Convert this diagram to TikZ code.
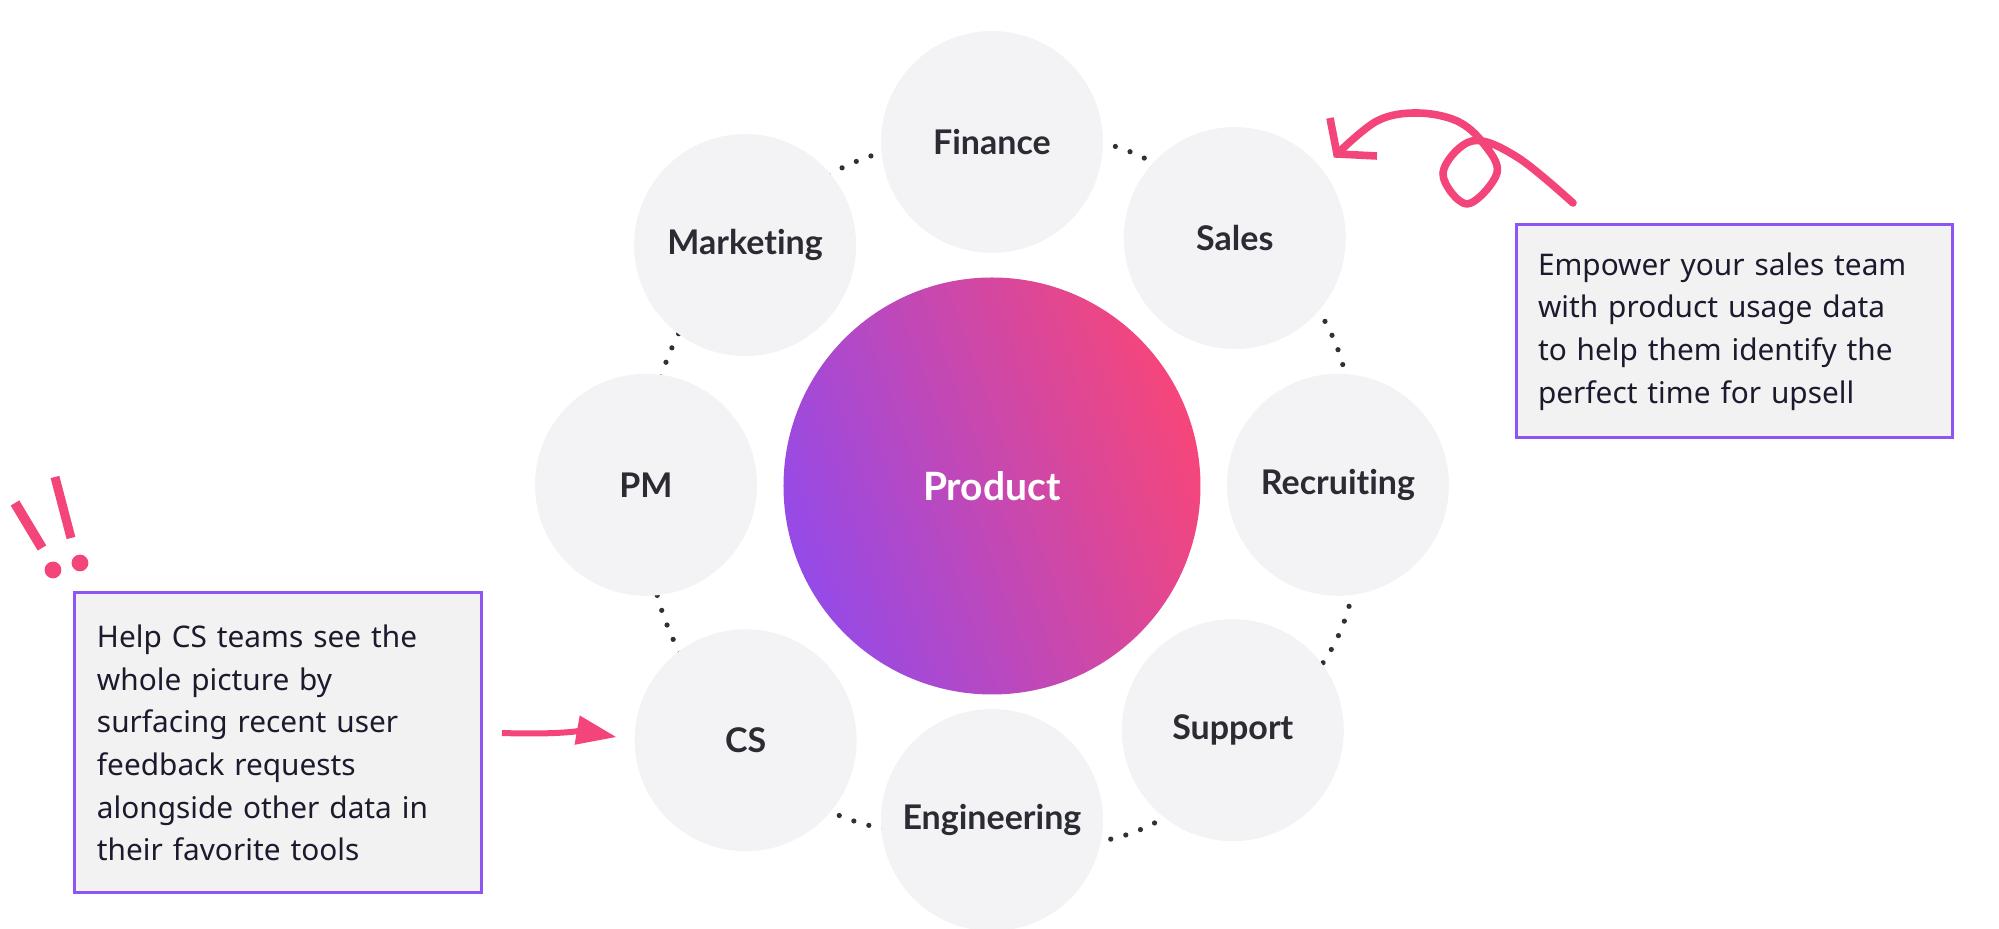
\documentclass[tikz,border=0pt]{standalone}
\usepackage{fontspec}
\setmainfont{Noto Sans}
\newfontfamily\teamfont{Lato}[Ligatures={NoCommon,NoContextual}]
\usetikzlibrary{arrows.meta,backgrounds}
\definecolor{ringgray}{HTML}{F3F3F5}
\definecolor{teamtext}{HTML}{2A2B33}
\definecolor{hubpurple}{HTML}{954AE8}
\definecolor{hubpink}{HTML}{F6467A}
\definecolor{notefill}{HTML}{F2F2F2}
\definecolor{noteborder}{HTML}{8C55F4}
\definecolor{notetext}{HTML}{1C1B2E}
\definecolor{dotgray}{HTML}{30303A}
\definecolor{accentpink}{HTML}{F4457A}
\tikzset{
  team/.style={circle, fill=ringgray, minimum size=111pt, inner sep=0pt,
    font=\teamfont\bfseries\fontsize{17}{19}\selectfont, text=teamtext},
  hub/.style={circle, minimum size=208.5pt, inner sep=0pt,
    font=\teamfont\bfseries\fontsize{19.5}{22}\selectfont, text=white},
  note/.style={draw=noteborder, line width=1.5pt, fill=notefill, align=left,
    inner xsep=11pt, font=\fontsize{14.9}{21.3}\selectfont, text=notetext},
  ringdots/.style={draw=dotgray, line width=2.6pt, line cap=round, dash pattern=on 0pt off 7.8pt},
  pinkarrow/.style={accentpink, line width=3pt, -{Triangle[length=20pt,width=14pt]}},
  curl/.style={accentpink, line width=3.8pt, line cap=round, line join=round},
  bang/.style={accentpink, line cap=butt}
}
\begin{document}
\begin{tikzpicture}[x=0.5pt,y=0.5pt]
      \useasboundingbox (-992,-443) rectangle (1007,486);
      \node[hub, left color=hubpurple, right color=hubpink, shading angle=110] (product) at (0,0) {Product};
      \path
        (90:344) node[team] (finance){Finance}
        (45.6:347) node[team] (sales){Sales}
        (0.2:346) node[team] (recruiting){Recruiting}
        (-45.4:343) node[team] (support){Support}
        (-90:334) node[team] (engineering){Engineering}
        (-134.1:354) node[team] (cs){CS}
        (179.8:346) node[team] (pm){PM}
        (135.7:345) node[team] (marketing){Marketing};
      \begin{scope}[on background layer]
        \draw[ringdots] (finance.center) to[bend left=33] (sales.center);
        \draw[ringdots] (sales.center) to[bend left=42] (recruiting.center);
        \draw[ringdots] (recruiting.center) to[bend left=50] (support.center);
        \draw[ringdots] (support.center) to[bend left=54] (engineering.center);
        \draw[ringdots] (engineering.center) to[bend left=35] (cs.center);
        \draw[ringdots] (cs.center) to[bend left=23] (pm.center);
        \draw[ringdots] (pm.center) to[bend left=22] (marketing.center);
        \draw[ringdots] (marketing.center) to[bend left=26] (finance.center);
      \end{scope}
      \node[note, text width=196pt, minimum height=106.5pt] (salesnote) at (742,154.5)
        {Empower your sales team\\with product usage data\\to help them identify the\\perfect time for upsell};
      \node[note, text width=181.5pt, minimum height=150pt] (csnote) at (-713.5,-257)
        {Help CS teams see the\\whole picture by\\surfacing recent user\\feedback requests\\alongside other data in\\their favorite tools};
      \coordinate (cstail) at (-490,-247);
      \draw[pinkarrow, shorten >=9pt] (cstail) to[out=-2, in=170] (cs.west);
      \coordinate (curltail) at (581,283);
      \coordinate (curltip) at (345,332);
      \draw[curl] plot[smooth, tension=0.6] coordinates {(curltail) (525,329) (480,345) (451,313) (475,282) (505,313) (491,343) (465,365) (425,373) (385,365) (curltip)};
      \draw[curl, line cap=butt, line join=miter] (338,368) -- (curltip) -- (385,330);
      \draw[bang, line width=5pt] (-977,-17) -- (-950,-62);
      \draw[bang, line width=4.5pt] (-937,9) -- (-921,-52);
      \fill[accentpink] (-939,-84) circle (4.2pt);
      \fill[accentpink] (-912,-77) circle (4.2pt);
    \end{tikzpicture}
\end{document}
